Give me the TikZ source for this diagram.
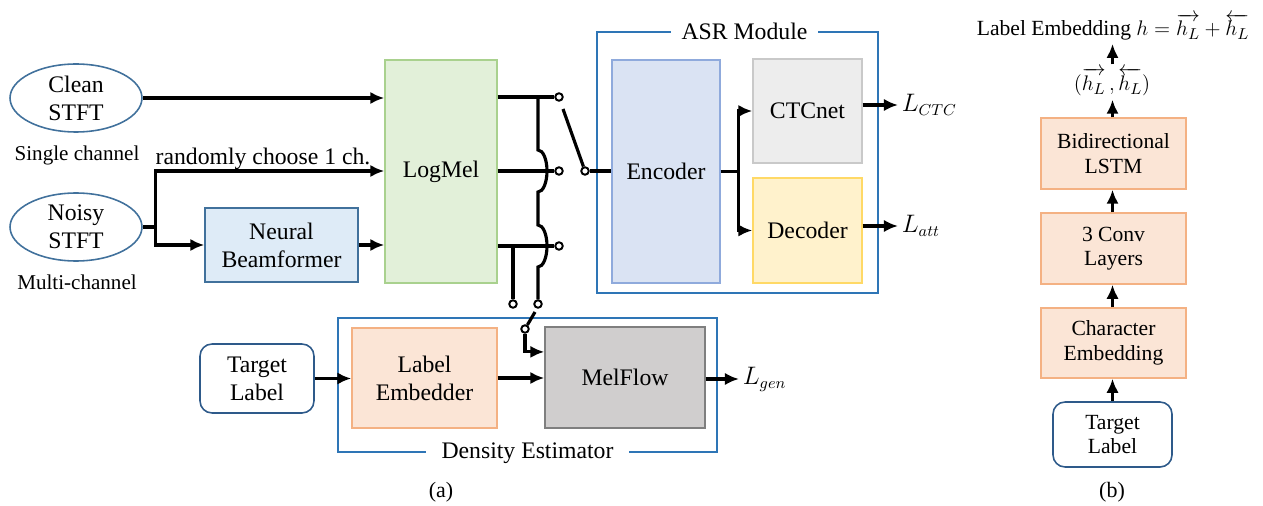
\documentclass[tikz,border=0pt]{standalone}
\usepackage{amsmath}
\usepackage{fontspec}
\setmainfont{Liberation Serif}
\usetikzlibrary{positioning}
\usetikzlibrary{calc}
\usetikzlibrary{arrows.meta}
\usetikzlibrary{shapes.geometric}
\definecolor{ellblue}{HTML}{41719C}
\definecolor{groupblue}{HTML}{2E75B6}
\definecolor{tgtblue}{HTML}{2E5A8A}
\definecolor{melfill}{HTML}{E2F0D9}
\definecolor{melline}{HTML}{A9D18E}
\definecolor{beamfill}{HTML}{DEEBF7}
\definecolor{encfill}{HTML}{DAE3F3}
\definecolor{encline}{HTML}{8FAADC}
\definecolor{ctcfill}{HTML}{EDEDED}
\definecolor{ctcline}{HTML}{C9C9C9}
\definecolor{decfill}{HTML}{FFF2CC}
\definecolor{decline}{HTML}{FFD966}
\definecolor{embfill}{HTML}{FBE5D6}
\definecolor{embline}{HTML}{F4B183}
\definecolor{flowfill}{HTML}{D0CECE}
\definecolor{flowline}{HTML}{7F7F7F}

\begin{document}
\begin{tikzpicture}[x=0.02cm,y=-0.02cm,>={Latex[length=8pt,width=7pt]},
    font=\fontsize{13.5}{16}\selectfont,
    wire/.style={line width=1.8pt,black},
    blk/.style={draw,rectangle,line width=0.8pt,align=center,inner sep=0pt},
    src/.style={ellipse,draw=ellblue,line width=0.9pt,align=center,inner sep=0pt,minimum width=2.64cm,minimum height=1.36cm},
    tgt/.style={draw=tgtblue,rectangle,rounded corners=0.24cm,line width=0.9pt,align=center,inner sep=0pt},
    groupbox/.style={draw=groupblue,rectangle,line width=0.9pt,inner sep=0pt},
    jack/.style={draw,circle,line width=1.1pt,fill=white,inner sep=0pt,minimum size=0.15cm},
    sidenote/.style={font=\fontsize{12}{14}\selectfont},
    small/.style={font=\fontsize{12.3}{14}\selectfont}]
    \useasboundingbox (0,0) rectangle (1263,506);
    %
    \node (clean) at (76,98) [src] {Clean\\STFT};
    \node (single) at (77,155) [sidenote] {Single channel};
    \node (noisy) at (76,227) [src] {Noisy\\STFT};
    \node (multi) at (77,282) [sidenote] {Multi-channel};
    \node (beam) at (281.5,245) [blk,fill=beamfill,draw=ellblue,minimum width=3.06cm,minimum height=1.48cm] {Neural\\Beamformer};
    \node (logmel) at (441,171.5) [blk,fill=melfill,draw=melline,minimum width=2.24cm,minimum height=4.46cm] {LogMel};
    \node (rnd) at (263,159) {randomly choose 1 ch.};
    %
    % ASR module
    \node (asr) at (737.5,162.5) [groupbox,minimum width=5.62cm,minimum height=5.22cm] {};
    \node (asrtitle) at ($(asr.north)+(7,0)$) [fill=white,inner xsep=6pt] {ASR Module};
    \node (encoder) at (666,171.5) [blk,fill=encfill,draw=encline,minimum width=2.16cm,minimum height=4.46cm] {Encoder};
    \node (ctc) at (807.5,111) [blk,fill=ctcfill,draw=ctcline,minimum width=2.18cm,minimum height=2.08cm] {CTCnet};
    \node (decoder) at (807.5,230.5) [blk,fill=decfill,draw=decline,minimum width=2.18cm,minimum height=2.1cm] {Decoder};
    \node (lctc) at (898,105) [anchor=west,inner sep=2pt] {$L_{CTC}$};
    \node (latt) at (898,226) [anchor=west,inner sep=2pt] {$L_{att}$};
    %
    % density estimator
    \node (dens) at (527.5,385) [groupbox,minimum width=7.58cm,minimum height=2.68cm] {};
    \node (denstitle) at (dens.south) [fill=white,inner xsep=9pt] {Density Estimator};
    \node (tla) at (257,378.5) [tgt,minimum width=2.28cm,minimum height=1.38cm] {Target\\Label};
    \node (embed) at (424.5,378) [blk,fill=embfill,draw=embline,minimum width=2.9cm,minimum height=2cm] {Label\\Embedder};
    \node (melflow) at (625,377.5) [blk,fill=flowfill,draw=flowline,minimum width=3.2cm,minimum height=2.02cm] {MelFlow};
    \node (lgen) at (739,379) [anchor=west,inner sep=2pt] {$L_{gen}$};
    %
    % switch terminals
    \node (t1) at (559,97) [jack] {};
    \node (t2) at (559,171) [jack] {};
    \node (t3) at (559,246) [jack] {};
    \node (s1) at (585,171) [jack] {};
    \node (b1) at (513,304) [jack] {};
    \node (b2) at (538,304) [jack] {};
    \node (s2) at (525,329) [jack] {};
    \coordinate (lev1) at (563,109);
    \coordinate (lev2) at (535,312);
    %
    \draw [wire,->] (clean.east) -- (clean.east -| logmel.west);
    \draw [wire] (noisy.east) -- ++(13,0) coordinate (split);
    \draw [wire,->] (split) |- (logmel.west |- t2);
    \draw [wire,->] (split) |- (beam.west);
    \draw [wire,->] (beam.east) -- (beam.east -| logmel.west);
    %
    \draw [wire] (logmel.east |- t1) -- (t1);
    \draw [wire] (logmel.east |- t2) -- (t2);
    \draw [wire] (logmel.east |- t3) -- (t3);
    \draw [wire] (b1 |- t3) -- (b1);
    \draw [wire] (b2 |- t1) -- ($(b2 |- t2)+(0,-21)$)
        .. controls +(5,0) and +(0,-11.6) .. ($(b2 |- t2)+(9,0)$)
        .. controls +(0,11.6) and +(5,0) .. ($(b2 |- t2)+(0,21)$)
        -- ($(b2 |- t3)+(0,-21)$)
        .. controls +(5,0) and +(0,-11.6) .. ($(b2 |- t3)+(9,0)$)
        .. controls +(0,11.6) and +(5,0) .. ($(b2 |- t3)+(0,21)$)
        -- (b2);
    \draw [wire] (lev1) -- (s1);
    \draw [wire] (s1) -- (s1 -| encoder.west);
    \draw [wire] (lev2) -- (s2);
    \draw [wire,->] (s2) |- ($(melflow.north west)!0.25!(melflow.south west)$);
    %
    \draw [wire] (encoder.east) -- ++(18,0) coordinate (fork);
    \draw [wire,->] (fork) |- (ctc.west);
    \draw [wire,->] (fork) |- (decoder.west);
    \draw [wire,->] (ctc.east |- lctc.west) -- (lctc.west);
    \draw [wire,->] (decoder.east |- latt.west) -- (latt.west);
    %
    \draw [wire,->] (tla.east) -- (tla.east -| embed.west);
    \draw [wire,->] (embed.east) -- (embed.east -| melflow.west);
    \draw [wire,->] (melflow.east |- lgen.west) -- (lgen.west);
    %
    \node (capa) at (441,492) [font=\fontsize{12.5}{14}\selectfont] {(a)};
    %
    % label embedder detail
    \node (tlb) at (1112.5,434.5) [tgt,small,minimum width=2.38cm,minimum height=1.3cm] {Target\\Label};
    \node (charemb) at (1113.5,343) [blk,small,fill=embfill,draw=embline,minimum width=2.9cm,minimum height=1.4cm] {Character\\Embedding};
    \node (conv) at (1113.5,248.5) [blk,small,fill=embfill,draw=embline,minimum width=2.9cm,minimum height=1.42cm] {3 Conv\\Layers};
    \node (lstm) at (1113.5,153.5) [blk,small,fill=embfill,draw=embline,minimum width=2.9cm,minimum height=1.42cm] {Bidirectional\\LSTM};
    \node (hpair) at (1112,82) [small,inner sep=2pt] {$(\overrightarrow{h_L}\,,\overleftarrow{h_L})$};
    \node (hsum) at (1113,27) [small,inner sep=0pt] {Label Embedding $h=\overrightarrow{h_L}+\overleftarrow{h_L}$};
    \node (capb) at (1112,492) [font=\fontsize{12.5}{14}\selectfont] {(b)};
    %
    \draw [wire,->] (tlb.north) -- (tlb.north |- charemb.south);
    \draw [wire,->] (tlb.north |- charemb.north) -- (tlb.north |- conv.south);
    \draw [wire,->] (tlb.north |- conv.north) -- (tlb.north |- lstm.south);
    \draw [wire,->] (tlb.north |- lstm.north) -- (tlb.north |- hpair.south);
    \draw [wire,->] (tlb.north |- hpair.north) -- ($(tlb.north |- hsum.south)+(0,3)$);
    %
\end{tikzpicture}
\end{document}
